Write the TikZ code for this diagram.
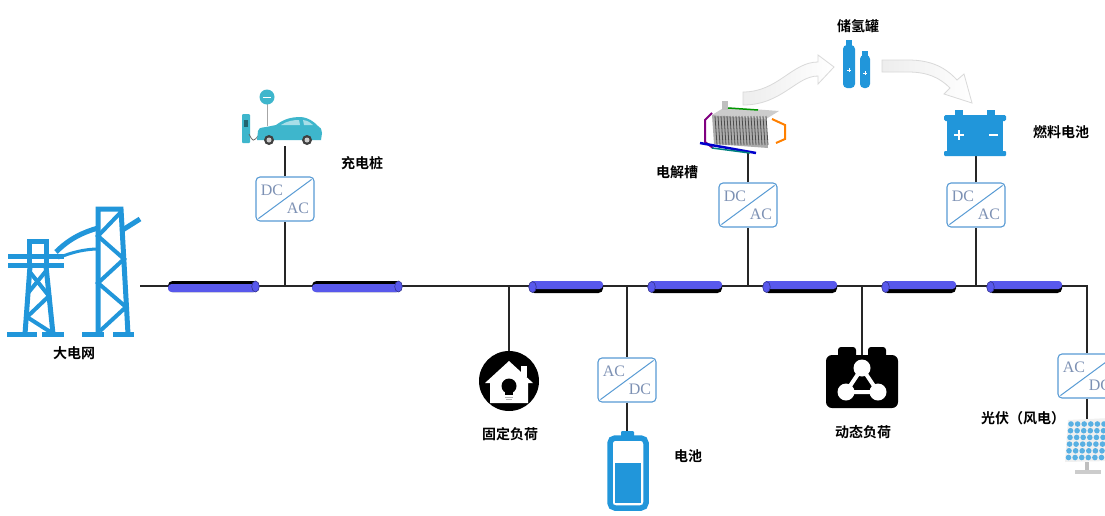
\documentclass[tikz,border=0pt]{standalone}
\usepackage{fontspec}
\newfontfamily\cjk{Noto Sans CJK SC Bold}
\newfontfamily\convfont{Liberation Serif}
\usetikzlibrary{calc,positioning}

\definecolor{iconblue}{RGB}{33,150,218}
\definecolor{convblue}{RGB}{88,155,212}
\definecolor{convtext}{RGB}{125,145,180}
\definecolor{cableblue}{RGB}{88,88,236}
\definecolor{carteal}{RGB}{62,182,204}

\begin{document}
\begin{tikzpicture}[
    x=1pt,y=-1pt,
    bus/.style={line width=1.6pt,black!85},
    conv/.style={draw=convblue,line width=1.1pt,rounded corners=4pt,minimum width=58pt,minimum height=44pt,inner sep=0pt},
    ctext/.style={font=\convfont\fontsize{16}{16}\selectfont,text=convtext,inner sep=0pt},
    lbl/.style={font=\cjk\fontsize{14}{16}\selectfont,inner sep=0pt},
    hollow/.style={left color=gray!14,right color=white,draw=gray!30,line width=0.8pt},
  ]

  \useasboundingbox (0,0) rectangle (1105,515);
  \fill[white] (0,0) rectangle (1105,515);
  \clip (0,0) rectangle (1105,515);

  % bus junctions and icon ports
  \coordinate (grid) at (140,286);
  \coordinate (j1) at (285,286);
  \coordinate (j2) at (509,286);
  \coordinate (j3) at (627,286);
  \coordinate (j4) at (748,286);
  \coordinate (j5) at (862,286);
  \coordinate (j6) at (976,286);
  \coordinate (j7) at (1087,286);

  \coordinate (car) at (285,146);
  \coordinate (elz) at (748,152);
  \coordinate (fc) at (976,156);
  \coordinate (house) at (509,351);
  \coordinate (bat) at (627,432);
  \coordinate (dyn) at (862,356);
  \coordinate (pv) at (1087,420);

  % converters
  \node (c1) at (285,199) [conv] {};
  \node (c2) at (748,205) [conv] {};
  \node (c3) at (976,205) [conv] {};
  \node (c4) at (627,380) [conv] {};
  \node (c5) at (1087,376) [conv] {};

  \foreach \n/\ta/\tb in {c1/DC/AC,c2/DC/AC,c3/DC/AC,c4/AC/DC,c5/AC/DC}
  {
    \draw[convblue,line width=1pt] ($(\n.south west)+(3,-3)$) -- ($(\n.north east)+(-3,3)$);
    \node[ctext] at ($(\n.center)+(-13,-9)$) {\ta};
    \node[ctext] at ($(\n.center)+(13,9)$) {\tb};
  }

  % wiring
  \draw[bus] (grid) -- (j1) -- (j2) -- (j3) -- (j4) -- (j5) -- (j6) -- (j7) -- (c5.north);
  \draw[bus] (j1) -- (c1.south);
  \draw[bus] (c1.north) -- (car);
  \draw[bus] (j4) -- (c2.south);
  \draw[bus] (c2.north) -- (elz);
  \draw[bus] (j6) -- (c3.south);
  \draw[bus] (c3.north) -- (fc);
  \draw[bus] (j2) -- (house);
  \draw[bus] (j3) -- (c4.north);
  \draw[bus] (c4.south) -- (bat);
  \draw[bus] (j5) -- (dyn);
  \draw[bus] (c5.south) -- (pv);

  % line sections
  \foreach \a/\b in {168/258,312/401}
  {
    \fill[black,rounded corners=4.5pt] (\a,281) rectangle (\b,292);
    \fill[cableblue,rounded corners=3.5pt] (\a,284) rectangle (\b,292);
    \filldraw[fill=cableblue,draw=cableblue!60!black,line width=0.6pt] (\b-2.5,286.5) ellipse (3.8 and 5.5);
  }
  \foreach \a/\b in {530/603,649/722,764/837,883/956,988/1062}
  {
    \fill[black,rounded corners=4.5pt] (\a,281) rectangle (\b,293);
    \fill[cableblue,rounded corners=3.5pt] (\a,281) rectangle (\b,289);
    \filldraw[fill=cableblue,draw=cableblue!60!black,line width=0.6pt] (\a+2.5,287) ellipse (3.8 and 5.5);
  }

  % grid towers
  \begin{scope}[iconblue,line width=5pt]
    \draw (29,267) -- (29,241) -- (46,241) -- (46,267);
    \draw (8,256) -- (64,256);
    \draw (8,265) -- (64,265);
    \draw (30,266) -- (25,334);
    \draw (46,266) -- (53,334);
    \draw[line width=4pt] (29,271) -- (49,296) -- (27,317) -- (52,333);
    \draw[line width=4pt] (46,271) -- (28,293);
    \draw (7,334) -- (37,334);
    \draw (42,334) -- (64,334);
    \draw (98,334) -- (98,209) -- (121,209) -- (128,334);
    \draw[line width=4pt] (121,212) -- (98,236) -- (124,259) -- (98,283) -- (126,307) -- (100,331);
    \draw (121,231) -- (140,219);
    \draw (56,252) .. controls (70,238) and (84,232) .. (98,228);
    \draw[line width=3pt] (58,258) .. controls (72,252) and (86,249) .. (98,249);
    \draw (82,334) -- (104,334);
    \draw (113,334) -- (134,334);
  \end{scope}

  % charging post and car
  \fill[carteal,rounded corners=1pt] (242,114) rectangle (250,143);
  \fill[carteal!55!black] (244,120) rectangle (248,127);
  \draw[black!60,line width=0.8pt] (249,134) .. controls (253,142) .. (259,135);
  \draw[gray!70,line width=1pt] (267,104) -- (267,126);
  \fill[carteal] (267,97) circle (7.5);
  \draw[white,line width=0.8pt] (263,97) -- (271,97);
  \fill[carteal] (257,140) -- (258,131) .. controls (259,128) .. (266,127) -- (276,125)
    .. controls (284,119) and (291,117) .. (301,117) .. controls (309,118) and (313,121) .. (318,126)
    .. controls (321,128) .. (322,133) -- (321,140) -- cycle;
  \fill[carteal!45!white] (281,125) .. controls (287,121) and (293,120) .. (299,120) -- (300,125) -- cycle;
  \fill[carteal!45!white] (303,120) .. controls (308,121) .. (313,125) -- (304,125) -- cycle;
  \foreach \w in {269,307}
  {
    \fill[black!75] (\w,140) circle (5);
    \fill[gray!40] (\w,140) circle (2.5);
  }

  % fixed load
  \fill[black] (509,381) circle (30);
  \fill[white] (485,383) -- (509,361) -- (533,383) -- (528,383) -- (528,403) -- (490,403) -- (490,383) -- cycle;
  \fill[white] (521,366) rectangle (527,377);
  \fill[black] (509,386) circle (7.5);
  \fill[black] (505,390) rectangle (513,395);
  \draw[gray!60,line width=1pt] (505,397) -- (513,397);
  \draw[gray!60,line width=1pt] (506,399.5) -- (512,399.5);

  % battery
  \draw[iconblue,line width=5.5pt,rounded corners=5pt] (610,438) rectangle (646,508);
  \fill[iconblue,rounded corners=1pt] (621,431) rectangle (634,437);
  \fill[iconblue] (615,463) rectangle (641,503);

  % dynamic load
  \fill[black,rounded corners=3pt] (838,347) rectangle (856,360);
  \fill[black,rounded corners=3pt] (868,347) rectangle (886,360);
  \fill[black,rounded corners=6pt] (826,355) rectangle (898,408);
  \draw[white,line width=4pt] (862,368) -- (846,392) -- (878,392) -- cycle;
  \fill[black] (862,384) circle (6);
  \foreach \p in {(862,368),(846,392),(878,392)}
    \fill[white] \p circle (8.5);

  % electrolyser
  \begin{scope}[yshift=-7pt]
    \fill[gray!40] (712,108) -- (725,100) -- (779,104) -- (766,112) -- cycle;
    \fill[gray!65] (712,108) -- (766,112) -- (768,141) -- (714,137) -- cycle;
    \foreach \f in {0,...,17}
      \draw[black!70,line width=0.8pt] (715+\f*3,109) -- (717+\f*3,138);
    \fill[gray!50] (722,94) rectangle (728,103);
    \draw[green!60!black,line width=1.5pt] (728,101) -- (758,103);
    \draw[violet,line width=2pt] (712,106) -- (705,113) -- (705,135) -- (713,141);
    \draw[orange,line width=2pt] (772,112) -- (785,118) -- (785,132) -- (776,136);
    \draw[blue!80!black,line width=2.5pt] (700,136) -- (756,146);
    \draw[teal,line width=1.5pt] (712,141) -- (750,146);
  \end{scope}

  % hydrogen tanks
  \fill[iconblue] (846,40) rectangle (852,46);
  \fill[iconblue,rounded corners=4pt] (843,45) rectangle (855,88);
  \fill[iconblue] (862,51) rectangle (868,56);
  \fill[iconblue,rounded corners=4pt] (860,55) rectangle (870,88);
  \draw[white,line width=0.6pt] (847,70) -- (851,70) (849,68) -- (849,72);
  \draw[white,line width=0.6pt] (863,73) -- (867,73) (865,71) -- (865,75);

  % hydrogen flow
  \shadedraw[hollow] (743,92) .. controls (778,92) and (792,62) .. (818,62) -- (818,55) -- (834,67)
    -- (818,84) -- (818,76) .. controls (796,76) and (782,105) .. (743,105) -- cycle;
  \shadedraw[hollow] (882,60) -- (908,60) .. controls (932,60) and (946,68) .. (957,80) -- (964,74)
    -- (972,103) -- (944,94) -- (950,88) .. controls (940,78) and (928,72) .. (908,72) -- (882,72) -- cycle;

  % fuel cell
  \fill[iconblue] (955,110) rectangle (963,116);
  \fill[iconblue] (987,110) rectangle (995,116);
  \fill[iconblue,rounded corners=1.5pt] (944,115) rectangle (1006,121);
  \fill[iconblue] (947,121) rectangle (1003,152);
  \fill[iconblue,rounded corners=1pt] (944,151) rectangle (1006,156);
  \draw[white,line width=2pt] (954,135) -- (964,135) (959,130) -- (959,140);
  \draw[white,line width=2pt] (989,135) -- (998,135);

  % photovoltaic panel
  \fill[gray!12] (1068,420) -- (1110,418) -- (1110,461) -- (1065,462) -- cycle;
  \foreach \r in {0,...,5}
    \foreach \c in {0,...,6}
      \fill[iconblue!75] (1071+\c*6.6-\r*0.5,424+\r*6.7) circle (2.8);
  \fill[gray!50] (1085,462) rectangle (1089,471);
  \fill[gray!40] (1075,470) rectangle (1101,474);

  % labels
  \node[lbl] (lgrid) at (74,353) {大电网};
  \node[lbl] (lcar) at (362,163) {充电桩};
  \node[lbl] (lhouse) at (510,434) {固定负荷};
  \node[lbl] (lbat) at (688,456) {电池};
  \node[lbl] (lelz) at (677,172) {电解槽};
  \node[lbl] (ltank) at (858,26) {储氢罐};
  \node[lbl] (lfc) at (1061,132) {燃料电池};
  \node[lbl] (ldyn) at (863,432) {动态负荷};
  \node[lbl] (lpv) at (1023,418) {光伏（风电）};

\end{tikzpicture}
\end{document}
